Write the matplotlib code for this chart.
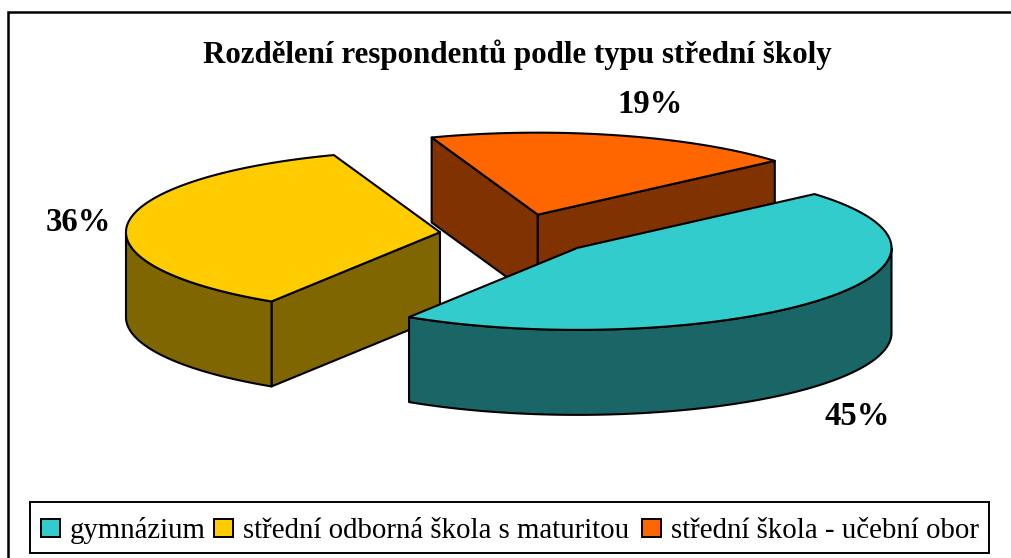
from __future__ import annotations

import numpy as np
import matplotlib
matplotlib.use("Agg")
import matplotlib.pyplot as plt
from matplotlib.patches import Polygon, Rectangle


TITLE = "Rozdělení respondentů podle typu střední školy"
CATEGORIES = ["gymnázium", "střední odborná škola s maturitou", "střední škola - učební obor"]
VALUES = [45.4, 35.5, 19.1]
LABELS = ["45%", "36%", "19%"]
TOP_COLORS = ["#33CCCC", "#FFCC00", "#FF6600"]
SIDE_COLORS = ["#1A6666", "#806600", "#803300"]

WIDTH, HEIGHT = 1011, 558
CENTER = (518, 234.5)
RX, RY = 314, 82
DEPTH = 85
EXPLODE = 0.25
START_ANGLE = 41
LABEL_POS = [(857.5, 425), (78, 231), (650, 113)]
LEGEND_SWATCH_X = [40, 213, 641]
LEGEND_TEXT_X = [70, 243, 671]


def slice_outline(start: float, sweep: float) -> tuple[np.ndarray, np.ndarray, np.ndarray]:
    """Return apex, arc points and arc angles of one slice, clockwise in degrees."""
    mid = np.radians(start - sweep / 2)
    apex = np.array([
        CENTER[0] + EXPLODE * RX * np.cos(mid),
        CENTER[1] - EXPLODE * RY * np.sin(mid),
    ])
    t = np.radians(np.linspace(start, start - sweep, 200))
    arc = np.column_stack([apex[0] + RX * np.cos(t), apex[1] - RY * np.sin(t)])
    return apex, arc, t


def wall_visible(apex: np.ndarray, end: np.ndarray, inside: np.ndarray) -> bool:
    """A radial wall shows only if its outward side points down the screen."""
    normal = np.array([-(end[1] - apex[1]), end[0] - apex[0]])
    if normal @ (inside - apex) > 0:
        normal = -normal
    return normal[1] > 0


def draw_slice(ax, start: float, sweep: float, top: str, side: str) -> None:
    """Draw the extruded sides and the top face of a slice."""
    apex, arc, t = slice_outline(start, sweep)
    down = np.array([0, DEPTH])
    style = dict(edgecolor="black", linewidth=1.5, joinstyle="round")

    for end in (arc[0], arc[-1]):
        if wall_visible(apex, end, arc.mean(axis=0)):
            ax.add_patch(Polygon([apex, end, end + down, apex + down], facecolor=side, **style))

    # rim, only the part facing the viewer
    front = arc[np.sin(t) <= 0]
    if len(front) > 1:
        ax.add_patch(Polygon(np.vstack([front, (front + down)[::-1]]), facecolor=side, **style))

    ax.add_patch(Polygon(np.vstack([apex, arc]), facecolor=top, **style))


plt.rcParams["font.family"] = ["Liberation Serif", "DejaVu Serif"]

fig = plt.figure(figsize=(WIDTH / 100, HEIGHT / 100), dpi=100)
ax = fig.add_axes([0, 0, 1, 1])
ax.set_xlim(0, WIDTH)
ax.set_ylim(HEIGHT, 0)
ax.axis("off")

# the frame is cut off on the right and at the bottom of the picture
ax.plot([8, 8, WIDTH], [HEIGHT, 12, 12], color="black", linewidth=1.8, solid_joinstyle="miter")

sweeps = [v / sum(VALUES) * 360 for v in VALUES]
starts = [START_ANGLE - sum(sweeps[:i]) for i in range(len(VALUES))]

for i in (2, 1, 0):
    draw_slice(ax, starts[i], sweeps[i], TOP_COLORS[i], SIDE_COLORS[i])

ax.text(517.5, 62.5, TITLE, ha="center", va="baseline", fontsize=22.3, fontweight="bold", color="black")
for label, (x, y) in zip(LABELS, LABEL_POS):
    ax.text(x, y, label, ha="center", va="baseline", fontsize=23.5, fontweight="bold", color="black")

ax.add_patch(Rectangle((30, 502), 959, 50.5, facecolor="white", edgecolor="black", linewidth=1.4))
for name, color, box_x, text_x in zip(CATEGORIES, TOP_COLORS, LEGEND_SWATCH_X, LEGEND_TEXT_X):
    ax.add_patch(Rectangle((box_x + 1, 518.5), 18.5, 18.5, facecolor=color, edgecolor="black", linewidth=1.4))
    ax.text(text_x, 537.5, name, ha="left", va="baseline", fontsize=20.75, color="black")

fig.savefig("out.png", dpi=100)
